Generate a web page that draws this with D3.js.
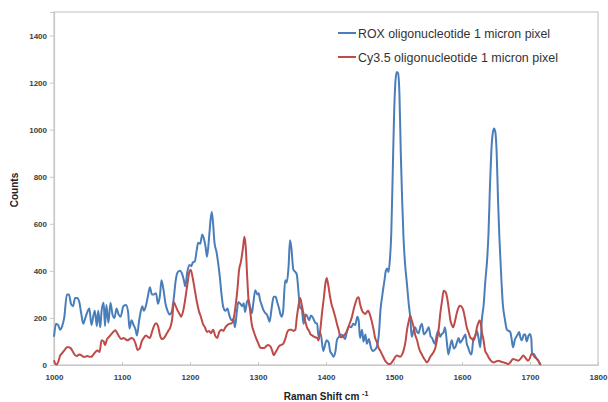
<!DOCTYPE html>
<html>
<head>
<meta charset="utf-8">
<script src="https://cdn.jsdelivr.net/npm/d3@7"></script>
<style>
  body { margin: 0; background: #fff; }
  text { font-family: "Liberation Sans", Arial, sans-serif; }
</style>
</head>
<body>
<div id="chart"></div>
<script>
// Raman spectra (shift in cm-1, counts)
var seriesNames = ["ROX oligonucleotide 1 micron pixel", "Cy3.5 oligonucleotide 1 micron pixel"];
var seriesColors = ["#4a7ebb", "#be4b48"];
var legendWidths = [192, 200];

var xTicks = [1000, 1100, 1200, 1300, 1400, 1500, 1600, 1700, 1800];
var yTicks = [0, 200, 400, 600, 800, 1000, 1200, 1400];

var roxShift = [1000,1003,1006,1009,1012,1015,1019,1022,1025,1028,1031,1034,1037,1040,1043,1046,1049,1052,1055,1058,
  1060,1063,1065,1068,1070,1073,1075,1077,1080,1083,1086,1089,1092,1095,1098,1102,1106,1109,1111,1114,
  1117,1120,1122,1125,1127,1130,1132,1135,1138,1141,1144,1147,1150,1153,1156,1158,1161,1164,1167,1170,
  1173,1176,1179,1182,1185,1188,1191,1193,1196,1199,1202,1204,1207,1210,1212,1215,1218,1221,1223,1225,
  1228,1230,1232,1234,1236,1239,1242,1244,1246,1249,1252,1255,1258,1261,1264,1266,1269,1271,1274,1277,
  1279,1281,1284,1286,1288,1291,1293,1296,1299,1301,1303,1306,1308,1311,1313,1315,1317,1320,1323,1326,
  1328,1331,1333,1335,1337,1340,1342,1345,1347,1349,1352,1355,1357,1359,1362,1364,1367,1370,1372,1375,
  1378,1381,1384,1387,1389,1392,1396,1399,1401,1404,1406,1409,1411,1414,1416,1419,1422,1425,1428,1431,
  1434,1437,1440,1443,1446,1448,1450,1453,1455,1458,1460,1463,1466,1469,1472,1475,1478,1480,1483,1486,
  1488,1490,1492,1494,1496,1498,1500,1502,1504,1506,1508,1510,1512,1514,1516,1519,1522,1524,1526,1529,
  1531,1534,1536,1539,1541,1544,1546,1549,1551,1554,1556,1558,1560,1563,1565,1568,1570,1573,1575,1578,
  1580,1583,1585,1588,1590,1593,1595,1597,1600,1602,1605,1607,1609,1612,1614,1617,1619,1622,1624,1627,
  1629,1632,1634,1637,1639,1641,1643,1645,1647,1649,1651,1653,1655,1658,1660,1663,1666,1668,1671,1673,
  1675,1678,1680,1682,1684,1686,1688,1691,1693,1695,1698,1700,1702,1703,1706,1709,1712,1715];
var roxCounts = [120,175,170,150,165,200,300,300,260,250,285,285,270,220,175,200,225,240,170,210,
  230,165,230,160,230,265,165,255,180,265,215,200,240,215,205,250,255,225,155,190,
  170,150,125,185,220,250,230,250,290,330,300,300,305,260,300,360,320,260,230,215,
  225,280,360,395,400,390,360,335,395,425,420,435,440,490,520,515,555,530,500,460,
  540,610,650,600,520,480,420,370,310,245,230,240,210,190,195,160,230,268,260,250,
  262,225,270,276,250,220,260,318,300,305,276,250,233,220,215,200,184,240,290,290,
  270,240,215,205,230,360,350,420,530,500,405,395,385,330,240,245,175,215,210,190,
  210,200,180,175,120,135,60,90,105,95,60,45,35,60,105,120,130,125,110,145,
  165,160,175,170,205,190,115,150,100,130,90,110,75,60,65,80,140,230,300,360,
  400,410,395,450,560,800,1050,1200,1245,1240,1150,900,700,540,440,345,250,200,120,150,
  160,140,135,165,175,130,135,150,160,120,115,100,90,130,145,120,130,140,160,90,
  45,85,105,70,75,100,115,95,105,115,130,90,75,50,45,115,120,145,120,75,
  185,260,345,450,560,750,900,980,1005,990,900,700,540,359,260,196,150,146,140,110,
  75,110,120,130,140,115,105,130,130,100,125,132,110,50,45,30,20,0];

var cyShift = [1000,1002,1004,1007,1009,1012,1016,1019,1022,1025,1028,1031,1034,1037,1040,1043,1046,1049,1052,1055,
  1058,1061,1064,1067,1070,1073,1075,1078,1081,1084,1087,1090,1093,1096,1099,1102,1105,1108,1111,1114,
  1117,1120,1123,1126,1129,1132,1135,1138,1141,1144,1147,1150,1153,1156,1159,1162,1165,1168,1171,1174,
  1176,1179,1182,1185,1187,1190,1193,1196,1199,1201,1204,1207,1210,1213,1216,1219,1222,1225,1228,1231,
  1234,1237,1240,1243,1246,1249,1252,1255,1258,1261,1264,1267,1270,1272,1275,1278,1280,1282,1284,1286,
  1288,1291,1294,1297,1300,1303,1306,1309,1312,1315,1318,1321,1323,1326,1328,1331,1334,1337,1340,1343,
  1346,1349,1352,1355,1357,1360,1362,1364,1367,1370,1372,1375,1377,1380,1384,1387,1389,1392,1394,1397,
  1399,1401,1403,1406,1408,1411,1414,1416,1419,1421,1424,1426,1429,1431,1434,1438,1441,1443,1446,1448,
  1450,1453,1456,1458,1460,1462,1465,1467,1470,1472,1475,1477,1480,1482,1485,1487,1490,1492,1495,1497,
  1500,1502,1504,1507,1509,1512,1514,1517,1519,1522,1524,1526,1529,1531,1534,1536,1538,1541,1543,1546,
  1548,1551,1553,1556,1558,1561,1563,1566,1568,1571,1573,1576,1578,1581,1583,1585,1587,1590,1592,1595,
  1597,1600,1602,1605,1607,1610,1612,1615,1617,1620,1622,1625,1626,1628,1629,1632,1634,1637,1639,1642,
  1646,1650,1653,1657,1661,1665,1668,1672,1675,1679,1683,1687,1690,1694,1697,1700,1702,1705,1707,1710,
  1712,1716];
var cyCounts = [20,5,2,20,40,50,65,75,75,70,55,42,38,45,42,35,35,38,35,35,
  45,55,62,55,105,100,85,110,120,130,140,148,135,120,110,115,110,105,110,115,
  110,90,64,70,100,115,125,120,115,140,165,177,165,125,110,115,130,145,160,200,
  268,250,230,215,205,230,280,340,395,405,370,320,270,230,205,175,160,140,145,135,
  150,125,115,140,150,145,160,170,175,177,195,250,330,400,440,500,545,500,380,280,
  240,170,140,115,95,75,72,72,80,85,80,60,41,55,65,80,85,90,110,140,
  150,150,145,150,200,260,285,260,217,180,160,145,132,125,118,115,104,160,217,290,
  345,370,345,290,260,231,200,175,145,118,120,125,135,146,170,203,240,260,285,288,
  260,231,220,217,225,231,210,189,150,118,95,75,60,47,30,18,8,4,5,12,
  25,35,40,38,35,45,61,100,146,190,210,190,160,130,104,80,61,45,33,20,
  11,20,33,45,54,75,104,160,217,280,316,310,288,230,189,170,160,190,217,245,
  252,245,231,190,160,135,118,110,104,130,160,185,189,170,146,100,61,45,33,20,
  11,15,18,15,11,8,4,15,26,22,18,30,40,28,18,30,47,42,33,25,
  18,0];

var width = 608, height = 402;
var plotLeft = 54, plotRight = 598, plotTop = 12, plotBottom = 365;

var svg = d3.select("#chart").append("svg")
    .attr("width", width)
    .attr("height", height);

var x = d3.scaleLinear().domain([1000, 1800]).range([plotLeft, plotRight]);
var y = d3.scaleLinear().domain([0, 1500]).range([plotBottom, plotTop]);

// plot frame
svg.append("rect")
    .attr("x", plotLeft).attr("y", plotTop)
    .attr("width", plotRight - plotLeft).attr("height", plotBottom - plotTop)
    .attr("fill", "none")
    .attr("stroke", "#c8c8c8")
    .attr("stroke-width", 1.2);

// axes
var yAxis = d3.axisLeft(y).tickValues(yTicks).tickFormat(d3.format("d"))
    .tickSize(4).tickPadding(3);
var xAxis = d3.axisBottom(x).tickValues(xTicks).tickFormat(d3.format("d"))
    .tickSizeInner(-3).tickSizeOuter(0).tickPadding(9);

var gy = svg.append("g").attr("transform", "translate(" + plotLeft + ",0)").call(yAxis);
var gx = svg.append("g").attr("transform", "translate(0," + plotBottom + ")").call(xAxis);

[gx, gy].forEach(function(g) {
    g.select(".domain").attr("stroke", "#c8c8c8").attr("stroke-width", 1.2);
    g.selectAll(".tick line").attr("stroke", "#c8c8c8");
    g.selectAll(".tick text")
        .attr("fill", "#404040")
        .style("font-size", "8px")
        .style("font-weight", "bold");
});

// axis titles
svg.append("text")
    .attr("transform", "translate(18,190) rotate(-90)")
    .attr("text-anchor", "middle")
    .style("font-size", "10px")
    .style("font-weight", "bold")
    .attr("fill", "#222")
    .text("Counts");

var xt = svg.append("text")
    .attr("x", 326).attr("y", 400)
    .attr("text-anchor", "middle")
    .style("font-size", "10px")
    .style("font-weight", "bold")
    .attr("fill", "#222")
    .text("Raman Shift cm ");
xt.append("tspan")
    .attr("dy", -4)
    .style("font-size", "7px")
    .text("-1");

// spectra
var line = d3.line()
    .x(function(d) { return x(d[0]); })
    .y(function(d) { return y(d[1]); })
    .curve(d3.curveMonotoneX);

var series = [
    d3.zip(roxShift, roxCounts),
    d3.zip(cyShift, cyCounts)
];

[0, 1].forEach(function(i) {
    svg.append("path")
        .datum(series[i])
        .attr("d", line)
        .attr("fill", "none")
        .attr("stroke", seriesColors[i])
        .attr("stroke-width", 2)
        .attr("stroke-linejoin", "round");
});

// legend
var legend = svg.selectAll(".legend")
    .data(seriesNames)
    .enter().append("g")
    .attr("class", "legend")
    .attr("transform", function(d, i) { return "translate(338," + (33 + i * 24) + ")"; });

legend.append("line")
    .attr("x1", 0).attr("x2", 18)
    .attr("y1", 0).attr("y2", 0)
    .attr("stroke", function(d, i) { return seriesColors[i]; })
    .attr("stroke-width", 2);

legend.append("text")
    .attr("x", 20).attr("y", 4.5)
    .attr("textLength", function(d, i) { return legendWidths[i]; })
    .attr("lengthAdjust", "spacingAndGlyphs")
    .style("font-size", "12.5px")
    .attr("fill", "#333")
    .text(function(d) { return d; });
</script>
</body>
</html>
